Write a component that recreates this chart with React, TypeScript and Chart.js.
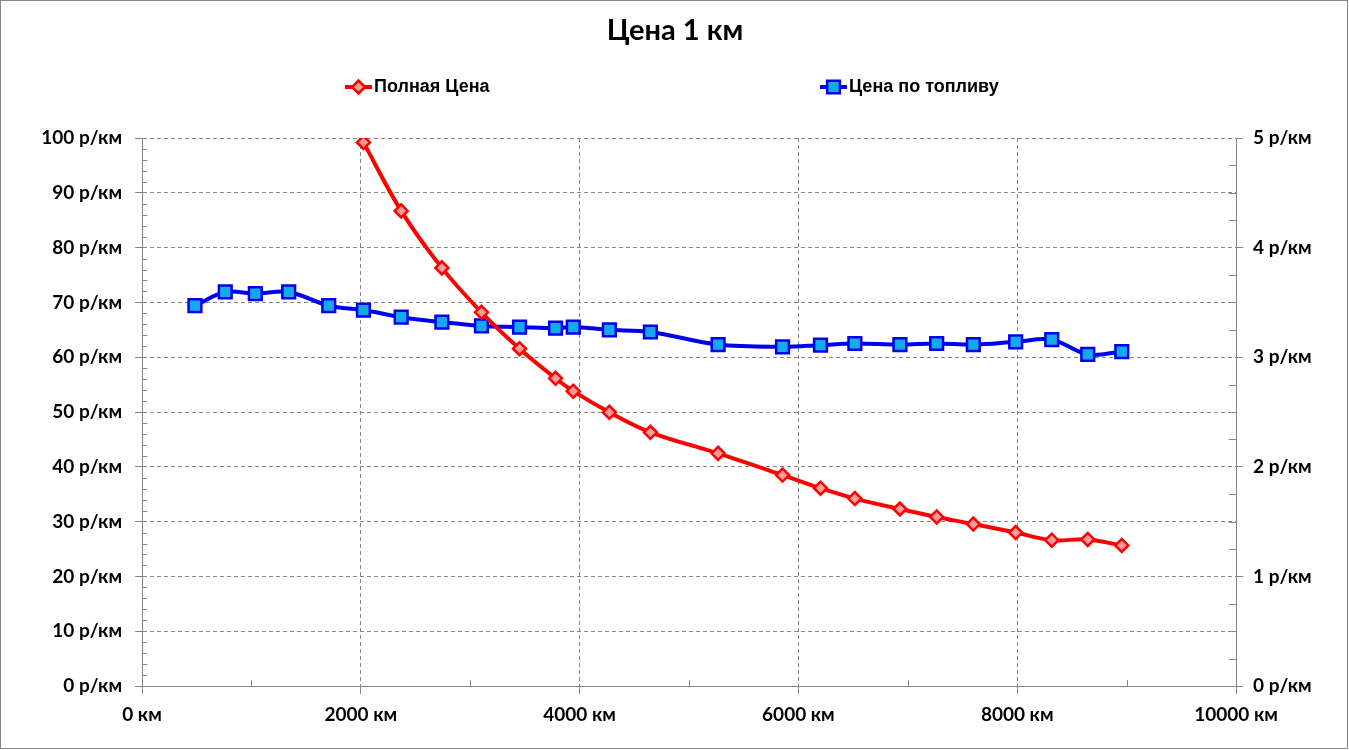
import React, { useEffect, useRef } from 'react';
import { Chart, registerables } from 'chart.js';

Chart.register(...registerables);

// ---- data ----
const distanceKm = [484, 761, 1036, 1341, 1707, 2024, 2369, 2741, 3103, 3451, 3780, 3942, 4272, 4647, 5266, 5855, 6202, 6516, 6928, 7264, 7599, 7986, 8316, 8645, 8956];
const fuelPrice = [3.47, 3.595, 3.58, 3.595, 3.47, 3.43, 3.365, 3.32, 3.285, 3.275, 3.265, 3.275, 3.25, 3.23, 3.115, 3.095, 3.11, 3.125, 3.115, 3.125, 3.115, 3.14, 3.16, 3.025, 3.05];
// full price starts at 2024 km (index 5 of distanceKm)
const fullPrice = [99.2, 86.7, 76.3, 68.2, 61.55, 56.15, 53.8, 49.95, 46.3, 42.45, 38.5, 36.1, 34.2, 32.3, 30.85, 29.55, 28.0, 26.6, 26.75, 25.65];
const seriesNames = ['Полная Цена', 'Цена по топливу'];
const titleText = 'Цена 1 км';
const xUnit = ' км';
const yUnit = ' р/км';

const FULL_OFFSET = distanceKm.length - fullPrice.length;

const GRAY = '#868686';
const RED = '#FF0000';
const RED_FILL = '#FF9C9C';
const BLUE = '#0000EE';
const BLUE_FILL = '#14AAF0';
const TICK_FONT = { family: 'Lato, "Open Sans", sans-serif', size: 19, weight: 'bold' as const };

function line(ctx: CanvasRenderingContext2D, x1: number, y1: number, x2: number, y2: number) {
  ctx.beginPath();
  ctx.moveTo(x1, y1);
  ctx.lineTo(x2, y2);
  ctx.stroke();
}

const decorPlugin = {
  id: 'decor',
  beforeDatasetsDraw(chart: any) {
    const ctx = chart.ctx as CanvasRenderingContext2D;
    const { x, y, y1 } = chart.scales;
    const area = chart.chartArea;
    ctx.save();
    ctx.strokeStyle = GRAY;
    ctx.lineWidth = 1;
    ctx.setLineDash([]);
    // x minor ticks (inside, upward)
    for (let v = 1000; v < 10000; v += 2000) {
      const px = Math.round(x.getPixelForValue(v)) + 0.5;
      line(ctx, px, area.bottom, px, area.bottom - 6);
    }
    // left minor ticks
    for (let v = 2; v < 100; v += 2) {
      if (v % 10 === 0) continue;
      const py = Math.round(y.getPixelForValue(v)) + 0.5;
      line(ctx, area.left, py, area.left + 5, py);
    }
    // right minor ticks
    for (let v = 0.25; v < 5; v += 0.25) {
      if (Math.abs(v - Math.round(v)) < 1e-6) continue;
      const py = Math.round(y1.getPixelForValue(v)) + 0.5;
      line(ctx, area.right - 7, py, area.right, py);
    }
    ctx.restore();
  },
  afterDraw(chart: any) {
    const ctx = chart.ctx as CanvasRenderingContext2D;
    const W = chart.width;
    const H = chart.height;
    ctx.save();
    // outer frame
    ctx.strokeStyle = GRAY;
    ctx.lineWidth = 1;
    ctx.strokeRect(0.5, 0.5, W - 2, H - 2);
    // title
    ctx.fillStyle = '#000';
    ctx.font = 'bold 29px Lato, "Open Sans", sans-serif';
    ctx.textAlign = 'center';
    ctx.textBaseline = 'middle';
    ctx.fillText(titleText, 675, 31);
    // legend
    const ds = chart.data.datasets;
    const items = [
      { x0: 345, ds: ds[0] },
      { x0: 820, ds: ds[1] },
    ];
    const ly = 87;
    items.forEach((it) => {
      const d = it.ds;
      ctx.strokeStyle = d.borderColor;
      ctx.lineWidth = 4;
      line(ctx, it.x0, ly, it.x0 + 27, ly);
      const cx = it.x0 + 13.5;
      ctx.lineWidth = d.pointBorderWidth;
      ctx.fillStyle = d.pointBackgroundColor;
      ctx.strokeStyle = d.pointBorderColor;
      ctx.beginPath();
      if (d.pointStyle === 'rectRot') {
        const r = d.pointRadius;
        ctx.moveTo(cx, ly - r);
        ctx.lineTo(cx + r, ly);
        ctx.lineTo(cx, ly + r);
        ctx.lineTo(cx - r, ly);
        ctx.closePath();
      } else {
        const s = d.pointRadius * Math.SQRT1_2;
        ctx.rect(cx - s, ly - s, 2 * s, 2 * s);
      }
      ctx.fill();
      ctx.stroke();
      ctx.fillStyle = '#000';
      ctx.font = 'bold 18px "Liberation Sans", Arial, sans-serif';
      ctx.textAlign = 'left';
      ctx.textBaseline = 'middle';
      ctx.fillText(d.label, it.x0 + 29, ly);
    });
    ctx.restore();
  },
};

export default function App() {
  const canvasRef = useRef<HTMLCanvasElement | null>(null);

  useEffect(() => {
    const canvas = canvasRef.current;
    if (!canvas) return;
    const chart = new Chart(canvas, {
      type: 'line',
      data: {
        datasets: [
          {
            label: seriesNames[0],
            data: fullPrice.map((v, i) => ({ x: distanceKm[i + FULL_OFFSET], y: v })),
            yAxisID: 'y',
            borderColor: RED,
            borderWidth: 4,
            tension: 0.35,
            pointStyle: 'rectRot',
            pointRadius: 6.5,
            pointHoverRadius: 6.5,
            pointBackgroundColor: RED_FILL,
            pointBorderColor: RED,
            pointBorderWidth: 2.5,
            fill: false,
          },
          {
            label: seriesNames[1],
            data: fuelPrice.map((v, i) => ({ x: distanceKm[i], y: v })),
            yAxisID: 'y1',
            borderColor: BLUE,
            borderWidth: 4,
            tension: 0.35,
            pointStyle: 'rect',
            pointRadius: 9,
            pointHoverRadius: 9,
            pointBackgroundColor: BLUE_FILL,
            pointBorderColor: BLUE,
            pointBorderWidth: 2.5,
            fill: false,
          },
        ],
      } as any,
      options: {
        animation: false,
        responsive: true,
        maintainAspectRatio: false,
        layout: { padding: { top: 138, left: 0, right: 0, bottom: 0 } },
        plugins: {
          legend: { display: false },
          title: { display: false },
          tooltip: { enabled: false },
        },
        scales: {
          x: {
            type: 'linear',
            min: 0,
            max: 10000,
            ticks: {
              stepSize: 2000,
              color: '#000',
              font: TICK_FONT,
              padding: 9,
              maxRotation: 0,
              callback: (v: any) => v + xUnit,
            },
            grid: {
              color: GRAY,
              lineWidth: 1,
              tickLength: 8,
              tickColor: GRAY,
              tickBorderDash: [],
            } as any,
            border: { display: true, color: GRAY, width: 1, dash: [4, 3] },
            afterFit: (s: any) => { s.height = 64; },
          },
          y: {
            position: 'left',
            min: 0,
            max: 100,
            ticks: {
              stepSize: 10,
              color: '#000',
              font: TICK_FONT,
              padding: 13,
              callback: (v: any) => v + yUnit,
            },
            grid: {
              color: GRAY,
              lineWidth: 1,
              tickLength: 7,
              tickColor: GRAY,
              tickBorderDash: [],
            } as any,
            border: { display: true, color: GRAY, width: 1, dash: [4, 3] },
            afterFit: (s: any) => { s.width = 142; },
          },
          y1: {
            position: 'right',
            min: 0,
            max: 5,
            ticks: {
              stepSize: 1,
              color: '#000',
              font: TICK_FONT,
              padding: 10,
              callback: (v: any) => v + yUnit,
            },
            grid: {
              drawOnChartArea: false,
              color: GRAY,
              tickLength: 7,
              tickColor: GRAY,
            } as any,
            border: { display: true, color: GRAY, width: 1 },
            afterFit: (s: any) => { s.width = 113; },
          },
        },
      } as any,
      plugins: [decorPlugin],
    });
    return () => chart.destroy();
  }, []);

  return (
    <div style={{ position: 'fixed', left: 0, top: 0, width: 1349, height: 750, background: '#fff' }}>
      <canvas ref={canvasRef} />
    </div>
  );
}
